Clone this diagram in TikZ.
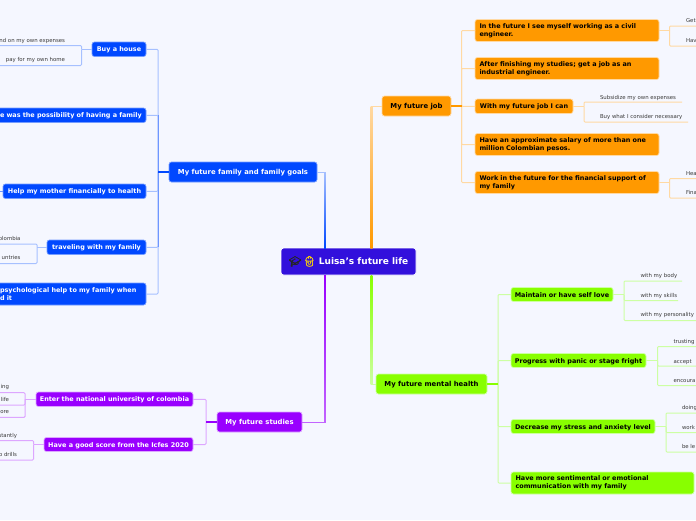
\documentclass[tikz,border=0pt]{standalone}
\usepackage{fontspec}
\setmainfont{DejaVu Sans}
\newfontfamily\emojifont[RawFeature={embolden=2.5}]{Noto Emoji}
\definecolor{bgc}{HTML}{F5F7FF}
\definecolor{rootc}{HTML}{3210DC}
\definecolor{blu}{HTML}{0048FF}
\definecolor{bluL}{HTML}{A6C0FF}
\definecolor{bluM}{HTML}{6E96FF}
\definecolor{org}{HTML}{FF9900}
\definecolor{orgL}{HTML}{FFD9A3}
\definecolor{grn}{HTML}{88FF00}
\definecolor{grnL}{HTML}{CDFFA3}
\definecolor{pur}{HTML}{9900FF}
\definecolor{purL}{HTML}{DDA6FF}
\definecolor{subc}{HTML}{3A3A3A}
\tikzset{
  x=1pt,y=1pt,
  base/.style={rounded corners=2.5pt,outer sep=0pt,inner ysep=0pt,inner xsep=4.5pt,font=\fontsize{6.45}{8}\selectfont\bfseries,line width=.7pt},
  oneline/.style={text height=5pt,text depth=0pt},
  top/.style={font=\fontsize{6.85}{8}\selectfont\bfseries},
  bnode/.style={base,fill=blu,draw=bluL!70!blu,text=white},
  onode/.style={base,fill=org,draw=orgL,text=black},
  gnode/.style={base,fill=grn,draw=grnL,text=black},
  pnode/.style={base,fill=pur,draw=purL,text=white},
  subt/.style={font=\fontsize{5.4}{6.5}\selectfont,text=subc,inner sep=0pt,outer sep=0pt,text height=4pt,text depth=0pt},
  bl/.style={draw=bluL,line width=1pt,rounded corners=1pt},
  ol/.style={draw=orgL,line width=1pt,rounded corners=1pt},
  gl/.style={draw=grnL,line width=1pt,rounded corners=1pt},
  pl/.style={draw=purL,line width=1pt,rounded corners=1pt},
}
% multi-line or aligned box: name, x1, y1, x2, y2, style+options, text
\newcommand\bx[7]{%
  \pgfmathsetmacro\myw{#4-#2}\pgfmathsetmacro\myh{#5-#3}\pgfmathsetmacro\mytw{#4-#2-9}%
  \pgfmathsetmacro\mycx{(#2+#4)/2}\pgfmathsetmacro\mycy{-(#3+#5)/2}%
  \node[#6,minimum width=\myw pt,minimum height=\myh pt,text width=\mytw pt] (#1) at (\mycx,\mycy) {#7};}
% one-line centred box
\newcommand\sx[7]{%
  \pgfmathsetmacro\myw{#4-#2}\pgfmathsetmacro\myh{#5-#3}%
  \pgfmathsetmacro\mycx{(#2+#4)/2}\pgfmathsetmacro\mycy{-(#3+#5)/2}%
  \node[#6,oneline,inner xsep=0pt,minimum width=\myw pt,minimum height=\myh pt] (#1) at (\mycx,\mycy) {#7};}
% style, parent anchor, bracket x, list of y/xend
\newcommand\brk[4]{%
  \coordinate (tmpb) at (#3,0);
  \draw[#1] (#2) -- (#2 -| tmpb);
  \foreach \yy/\xe in {#4} {\draw[#1] (#2 -| tmpb) |- (\xe,-\yy);}}
\begin{document}
\begin{tikzpicture}
\useasboundingbox (0,0) rectangle (696,-520);
\fill[bgc] (0,0) rectangle (696,-520);

% --- nodes
\sx{fam}{169}{162}{317}{182}{bnode,top}{My future family and family goals}
\sx{buy}{92}{42}{146}{56.5}{bnode}{Buy a house}
\bx{pos}{-4.5}{108}{146}{122.5}{bnode,oneline,align=right}{\mbox{e was the possibility of having a family}}
\sx{hlp}{3}{184}{146}{198.5}{bnode}{Help my mother financially to health}
\sx{trv}{47}{240}{146}{254.5}{bnode}{traveling with my family}
\bx{psy}{-4.5}{283}{146}{305}{bnode,align=left}{\mbox{psychological help to my family when}\\d it}

\sx{job}{382}{96}{451}{116}{onode,top}{My future job}
\bx{ja}{475}{19.5}{659}{41.5}{onode,align=left}{In the future I see myself working as a civil\\engineer.}
\bx{jb}{475}{57.5}{659}{79.5}{onode,align=left}{After finishing my studies; get a job as an\\industrial engineer.}
\sx{jc}{475}{99}{573}{113.5}{onode}{With my future job I can}
\bx{jd}{475}{133.5}{659}{155.5}{onode,align=left}{Have an approximate salary of more than one\\million Colombian pesos.}
\bx{je}{475}{171.5}{659}{193.5}{onode,align=left}{Work in the future for the financial support of\\my family}

\sx{men}{376}{374}{487}{394}{gnode,top}{My future mental health}
\sx{ga}{511}{287.5}{613}{301.5}{gnode}{Maintain or have self love}
\sx{gb}{511}{353.5}{646}{367.5}{gnode}{Progress with panic or stage fright}
\sx{gc}{511}{419.5}{655}{433.5}{gnode}{Decrease my stress and anxiety level}
\bx{gd}{511}{472}{694}{494}{gnode,align=left}{Have more sentimental or emotional\\communication with my family}

\sx{stu}{217}{412}{302}{432}{pnode,top}{My future studies}
\sx{pa}{36}{392}{193}{406.5}{pnode}{Enter the national university of colombia}
\sx{pb}{44}{437.5}{193}{451.5}{pnode}{Have a good score from the Icfes 2020}

\coordinate (ru) at (325,0);
\coordinate (ro) at (371.5,0);

% --- connectors to the root (drawn first, they fade towards the branch)
\draw[bluL,line width=1pt] (fam.east) -- (fam.east -| ru);
\draw[orgL,line width=1pt] (job.west) -- (job.west -| ro);
\draw[grnL,line width=1pt,rounded corners=1pt] (men.west) -- (men.west -| ro);
\draw[purL!60!pur,line width=1pt] (stu.east) -- (stu.east -| ru);

\node[fill=rootc,draw=white,line width=.8pt,rounded corners=2.5pt,outer sep=0pt,inner sep=0pt,
      minimum width=135pt,minimum height=27pt,text=white,text height=6.6pt,text depth=0pt,
      font=\fontsize{9}{11}\selectfont\bfseries] (root) at (348.5,-261.5)
  {{\emojifont\fontsize{10}{11}\selectfont\textcolor{black!85}{🎓}\,\textcolor{yellow!75!orange}{👷}}\ Luisa's future life};

\shade[top color=bluL,bottom color=blu] ([xshift=-.8pt]fam.east -| ru) rectangle ([xshift=.8pt]root.north -| ru);
\shade[top color=orgL,bottom color=org] ([xshift=-.8pt]job.west -| ro) rectangle ([xshift=.8pt]root.north -| ro);
\shade[top color=grn,bottom color=grnL] ([xshift=-.8pt]root.south -| ro) rectangle ([xshift=.8pt]men.west -| ro);
\shade[top color=pur,bottom color=purL!60!pur] ([xshift=-.8pt]root.south -| ru) rectangle ([xshift=.8pt]stu.east -| ru);

% --- main branches
\coordinate (sb) at (158,-172);
\foreach \n in {buy,pos,hlp,trv,psy} {\draw[bl] (\n.east) -| (sb);}
\draw[bluM,line width=1pt] (pos.east -| sb) -- (trv.east -| sb);
\draw[blu,line width=1.6pt] (sb) -- (fam.west);

\coordinate (so) at (461.5,-106);
\foreach \n in {ja,jb,jc,jd,je} {\draw[ol] (\n.west) -| (so);}
\draw[org,line width=1.2pt] (so) -- (job.east);

\coordinate (sg) at (498,-384);
\foreach \n in {ga,gb,gc,gd} {\draw[gl] (\n.west) -| (sg);}
\draw[grn,line width=1.6pt] (sg) -- (men.east);

\coordinate (sp) at (206,-422);
\foreach \n in {pa,pb} {\draw[pl] (\n.east) -| (sp);}
\draw[pur,line width=1.2pt] (sp) -- (stu.west);

% --- sub branches
\brk{bl}{buy.west}{81.5}{45.5/0,65.5/0}
\brk{bl}{trv.west}{37}{244/0,263.5/0}
\draw[bluM,line width=1pt] (hlp.west) -- ++(-3,0) coordinate (hf);
\brk{ol}{ja.east}{669.5}{26/696,46/696}
\brk{ol}{jc.east}{584}{102/682,122/688}
\brk{ol}{je.east}{669.5}{178.5/696,198/696}
\brk{gl}{ga.east}{624}{281/682,300.5/678,320.5/696}
\brk{gl}{gb.east}{657.5}{346.5/696,366/696,385.5/696}
\brk{gl}{gc.east}{666}{413/696,432.5/696,452/696}
\brk{pl}{pa.west}{25}{392.7/0,405/0,417.3/0}
\brk{pl}{pb.west}{33.5}{440.5/0,460/0}

% --- sub texts
\node[subt,anchor=east] (t1) at (65,-40) {nd on my own expenses};
\node[subt,anchor=east] (t2) at (65,-59) {pay for my own home};
\node[subt,anchor=east] (t3) at (20.5,-238) {olombia};
\node[subt,anchor=east] (t4) at (20.5,-257) {untries};
\node[subt,anchor=east] (t5) at (9,-386) {ing};
\node[subt,anchor=east] (t6) at (9,-399) {life};
\node[subt,anchor=east] (t7) at (9,-411) {ore};
\node[subt,anchor=east] (t8) at (17,-435) {stantly};
\node[subt,anchor=east] (t9) at (17,-454) {o drills};
\node[subt,anchor=west] (u1) at (686,-20.5) {Get};
\node[subt,anchor=west] (u2) at (686,-40) {Hav};
\node[subt,anchor=west] (u3) at (600,-97) {Subsidize my own expenses};
\node[subt,anchor=west] (u4) at (600,-116) {Buy what I consider necessary};
\node[subt,anchor=west] (u5) at (686,-173) {Hea};
\node[subt,anchor=west] (u6) at (686,-192) {Fina};
\node[subt,anchor=west] (v1) at (640.5,-275) {with my body};
\node[subt,anchor=west] (v2) at (640.5,-295) {with my skills};
\node[subt,anchor=west] (v3) at (640.5,-314) {with my personality};
\node[subt,anchor=west] (v4) at (673.5,-341) {trusting};
\node[subt,anchor=west] (v5) at (673.5,-361) {accept};
\node[subt,anchor=west] (v6) at (673.5,-380) {encoura};
\node[subt,anchor=west] (v7) at (682,-407) {doing};
\node[subt,anchor=west] (v8) at (682,-427) {work};
\node[subt,anchor=west] (v9) at (682,-446) {be le};
\end{tikzpicture}
\end{document}
